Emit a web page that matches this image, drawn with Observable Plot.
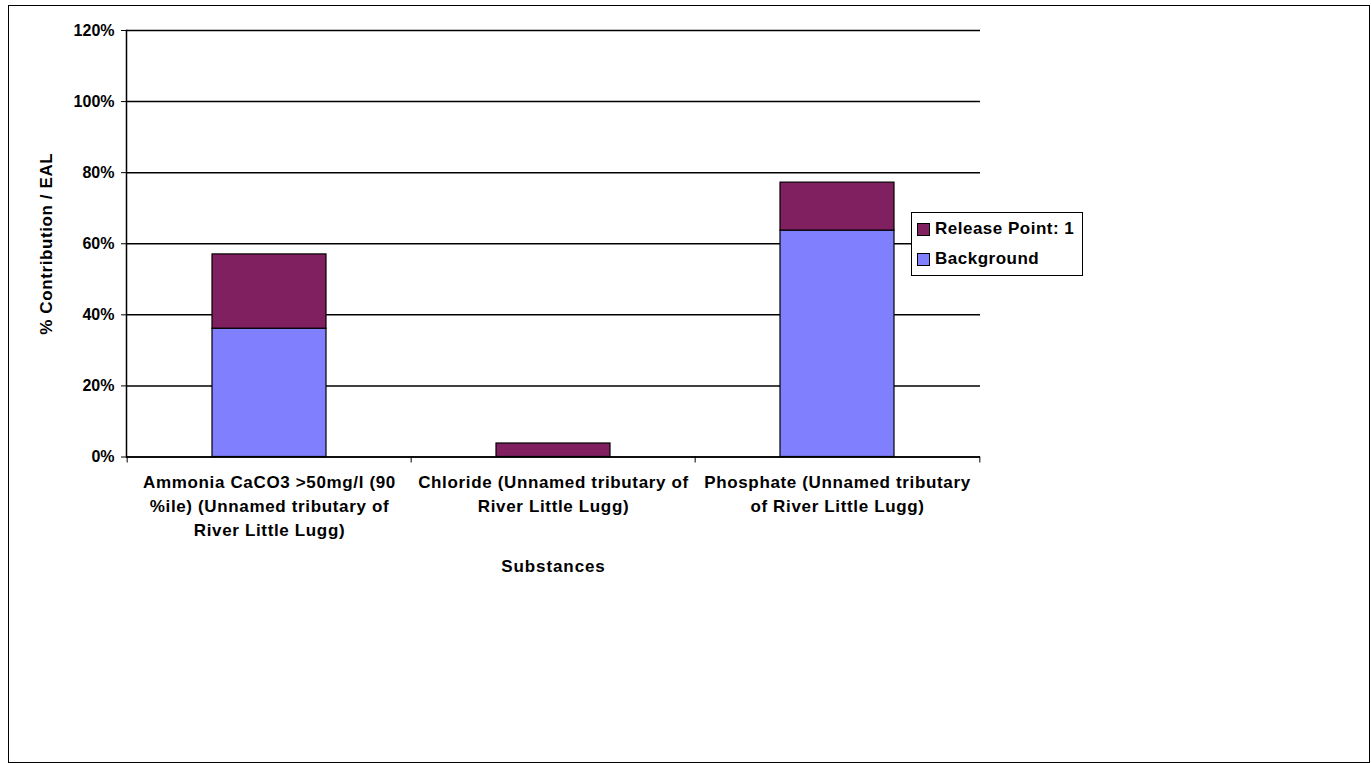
<!DOCTYPE html>
<html>
<head>
<meta charset="utf-8">
<script src="https://cdn.jsdelivr.net/npm/d3@7"></script>
<script src="https://cdn.jsdelivr.net/npm/@observablehq/plot@0.6"></script>
<style>
  html, body { margin: 0; padding: 0; background: #fff; }
  #wrap { position: relative; width: 1371px; height: 763px; overflow: hidden; font-family: "Liberation Sans", Arial, sans-serif; }
  #border { position: absolute; left: 8px; top: 5px; width: 1360px; height: 756px; border: 1.5px solid #000; pointer-events: none; }
  #legend { position: absolute; left: 911px; top: 212px; width: 170px; height: 62px; border: 1px solid #000; background: #fff; font-weight: bold; font-size: 17px; letter-spacing: 0.5px; }
  #legend .row { position: absolute; left: 5px; display: flex; align-items: center; }
  #legend .sw { width: 11px; height: 11px; border: 1px solid #000; margin-right: 5px; }
  svg { position: absolute; left: 0; top: 0; }
</style>
</head>
<body>
<div id="wrap"></div>
<script>
// ---- Data ----
const categories = [
  "Ammonia CaCO3 >50mg/l (90 %ile) (Unnamed tributary of River Little Lugg)",
  "Chloride (Unnamed tributary of River Little Lugg)",
  "Phosphate (Unnamed tributary of River Little Lugg)"
];
const tickLabels = [
  "Ammonia CaCO3 >50mg/l (90\n%ile) (Unnamed tributary of\nRiver Little Lugg)",
  "Chloride (Unnamed tributary of\nRiver Little Lugg)",
  "Phosphate (Unnamed tributary\nof River Little Lugg)"
];
const seriesNames = ["Background", "Release Point: 1"];
const seriesColors = ["#8080FF", "#802060"];
const background = [0.361, 0.0, 0.637];
const releasePoint1 = [0.209, 0.038, 0.135];
const yTicks = [0, 0.2, 0.4, 0.6, 0.8, 1.0, 1.2];
const xTitle = "Substances";
const yTitle = "% Contribution / EAL";

const rows = [];
categories.forEach((c, i) => {
  rows.push({cat: c, series: seriesNames[0], value: background[i]});
  rows.push({cat: c, series: seriesNames[1], value: releasePoint1[i]});
});

const W = 1371, H = 763;
const mL = 126, mR = 391, mT = 30, mB = 306.5;
const step = (W - mL - mR) / categories.length;
const font = "Liberation Sans, Arial, sans-serif";

const chart = Plot.plot({
  width: W, height: H,
  marginLeft: mL, marginRight: mR, marginTop: mT, marginBottom: mB,
  style: {fontFamily: font, fontWeight: "bold", background: "transparent", overflow: "visible"},
  x: {domain: categories, paddingInner: 0.6, paddingOuter: 0.3},
  y: {domain: [0, 1.2]},
  color: {domain: seriesNames, range: seriesColors},
  marks: [
    Plot.gridY(yTicks, {stroke: "#000", strokeOpacity: 1, strokeWidth: 1.5}),
    Plot.barY(rows, {x: "cat", y: "value", fill: "series", stroke: "#000", strokeWidth: 1.2}),
    Plot.ruleY([0], {stroke: "#000", strokeWidth: 1.5}),
    Plot.frame({anchor: "left", stroke: "#000", strokeWidth: 1.5}),
    Plot.axisY({ticks: yTicks, tickFormat: d3.format(".0%"), tickSize: 5, tickPadding: 7,
      fontSize: 16, fontWeight: "bold", fill: "#000", stroke: "#000", label: null}),
    Plot.axisX({ticks: categories, tickSize: 6, tickFormat: () => "", dx: -step / 2, label: null, stroke: "#000"}),
    Plot.axisX({ticks: categories.slice(-1), tickSize: 6, tickFormat: () => "", dx: step / 2, label: null, stroke: "#000"}),
    Plot.text(categories, {x: d => d, text: (d, i) => tickLabels[i], frameAnchor: "bottom", lineAnchor: "top",
      dy: 13.5, fontSize: 17, fontWeight: "bold", lineHeight: 24 / 17, fill: "#000"}),
    Plot.text([xTitle], {frameAnchor: "bottom", dy: 115, fontSize: 17, fontWeight: "bold", fill: "#000"}),
    Plot.text([yTitle], {frameAnchor: "left", dx: -80, rotate: -90, textAnchor: "middle",
      fontSize: 17, fontWeight: "bold", fill: "#000"})
  ]
});

// slight letter spacing to mimic the original renderer's wider text
d3.select(chart).selectAll("text").each(function () {
  const s = this.textContent;
  if (s.includes("Lugg")) this.setAttribute("letter-spacing", "0.65");
  else if (s === xTitle) this.setAttribute("letter-spacing", "0.9");
  else if (s === yTitle) this.setAttribute("letter-spacing", "0.6");
});

const wrap = document.getElementById("wrap");
wrap.appendChild(chart);
const border = document.createElement("div");
border.id = "border";
wrap.appendChild(border);

// Legend (Release Point first, as in the original)
const legend = document.createElement("div");
legend.id = "legend";
const order = [1, 0];
const rowTops = [6, 36];
order.forEach((si, k) => {
  const r = document.createElement("div");
  r.className = "row";
  r.style.top = rowTops[k] + "px";
  const sw = document.createElement("div");
  sw.className = "sw";
  sw.style.background = seriesColors[si];
  const t = document.createElement("span");
  t.textContent = seriesNames[si];
  r.appendChild(sw); r.appendChild(t);
  legend.appendChild(r);
});
wrap.appendChild(legend);
</script>
</body>
</html>
